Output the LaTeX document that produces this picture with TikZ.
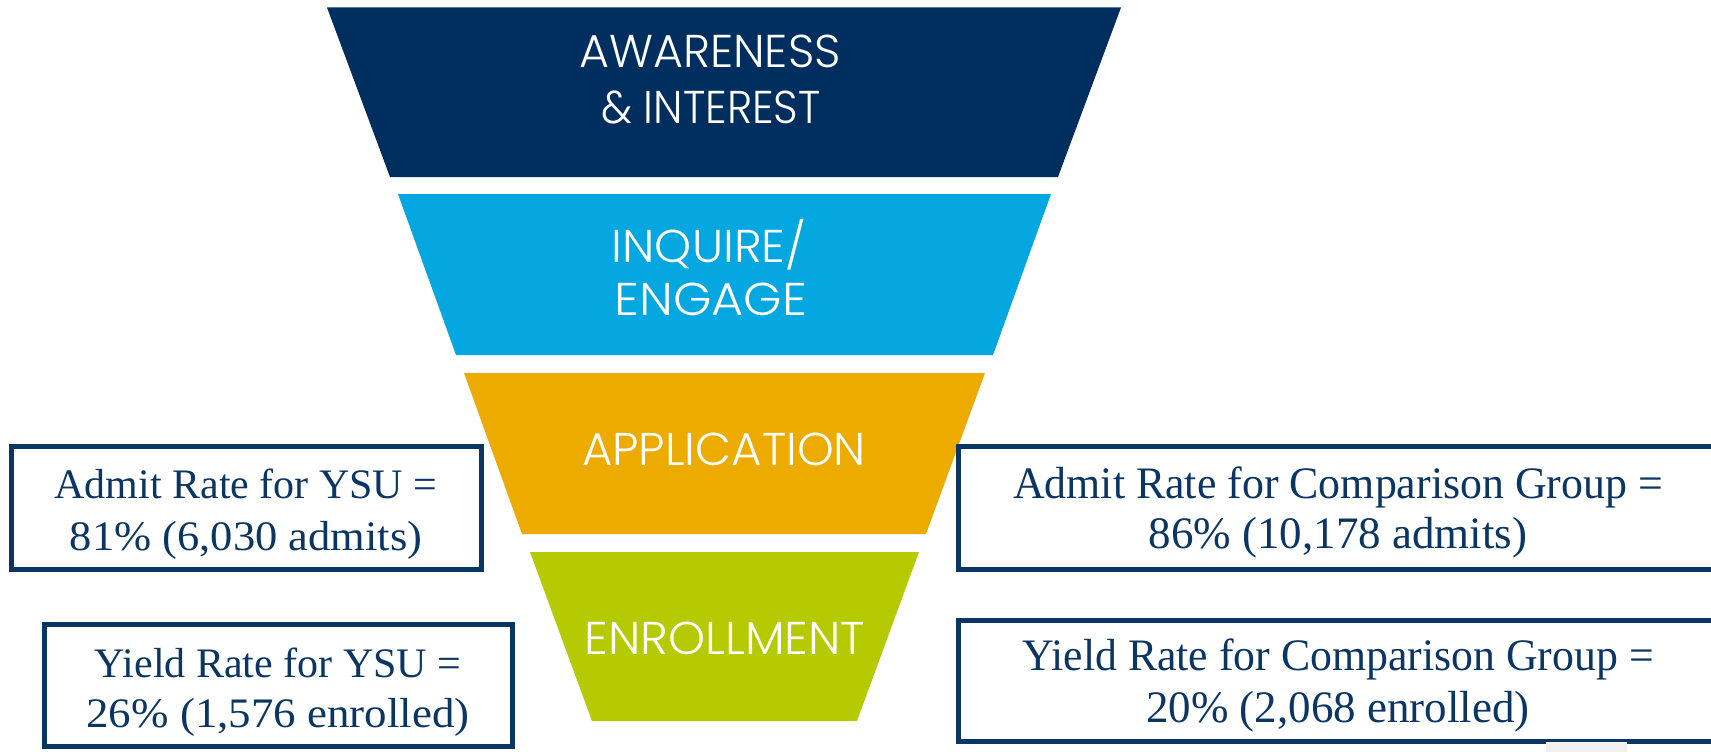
\documentclass[tikz,border=0pt]{standalone}
\usepackage{fontspec}
\setmainfont{Liberation Serif}
\newfontfamily\stagefont{Poppins}[UprightFont={* Light}]
\definecolor{stageA}{HTML}{002E5E}
\definecolor{stageB}{HTML}{05A7E0}
\definecolor{stageC}{HTML}{EDAB00}
\definecolor{stageD}{HTML}{B5CA00}
\definecolor{boxnavy}{HTML}{0B3563}
\definecolor{patch}{HTML}{F0F0F0}
\tikzset{
  stagelabel/.style={text=white, font=\stagefont\fontsize{46}{50}\selectfont, anchor=base, inner sep=0pt},
  ratelabel/.style={text=boxnavy, font=\fontsize{42}{46}\selectfont, anchor=base, inner sep=0pt},
  cmplabel/.style={text=boxnavy, font=\fontsize{45}{49}\selectfont, anchor=base, inner sep=0pt},
  ratebox/.style={draw=boxnavy, line width=5pt},
}
\begin{document}
\begin{tikzpicture}[x=1pt,y=-1pt]
\useasboundingbox (0,0) rectangle (1711,752);
\clip (0,0) rectangle (1711,752);
% funnel stages
\fill[stageA] (327,7.5) -- (1121,7.5) -- (1058,177) -- (390,177) -- cycle;
\fill[stageB] (398,194) -- (1051,194) -- (993,355) -- (456,355) -- cycle;
\fill[stageC] (464,373) -- (985,373) -- (926,534) -- (522,534) -- cycle;
\fill[stageD] (530,552) -- (919,552) -- (857,721) -- (592,721) -- cycle;
\node[stagelabel] (awa1) at (710,68) {AWARENESS};
\node[stagelabel] (awa2) at (711,123) {\scalebox{0.933}[1]{\& INTEREST}};
\node[stagelabel] (inq1) at (709,262) {\scalebox{1.024}[1]{INQUIRE/}};
\node[stagelabel] (inq2) at (711,315) {\scalebox{1.07}[1]{ENGAGE}};
\node[stagelabel] (app) at (724,465) {\scalebox{1.016}[1]{APPLICATION}};
\node[stagelabel] (enr) at (725,654) {\scalebox{1.024}[1]{ENROLLMENT}};
% rate boxes
\draw[ratebox] (11.5,446.5) rectangle (481,569.5);
\draw[ratebox] (44.5,624.5) rectangle (512.5,746.5);
\draw[ratebox] (958,446) rectangle (1760,569);
\draw[ratebox] (958,620) rectangle (1760,741);
\node[ratelabel] (ysuA1) at (246,498) {Admit Rate for YSU =};
\node[ratelabel] (ysuA2) at (246,550) {\scalebox{1.06}[1]{81\% (6,030 admits)}};
\node[ratelabel] (ysuY1) at (278,677) {Yield Rate for YSU =};
\node[ratelabel] (ysuY2) at (278,727) {\scalebox{1.07}[1]{26\% (1,576 enrolled)}};
\node[cmplabel] (cmpA1) at (1338,498) {\scalebox{0.975}[1]{Admit Rate for Comparison Group =}};
\node[cmplabel] (cmpA2) at (1338,548) {86\% (10,178 admits)};
\node[cmplabel] (cmpY1) at (1338,670) {\scalebox{0.973}[1]{Yield Rate for Comparison Group =}};
\node[cmplabel] (cmpY2) at (1338,722) {20\% (2,068 enrolled)};
\fill[patch] (1546,742) rectangle (1627,752);
\end{tikzpicture}
\end{document}
